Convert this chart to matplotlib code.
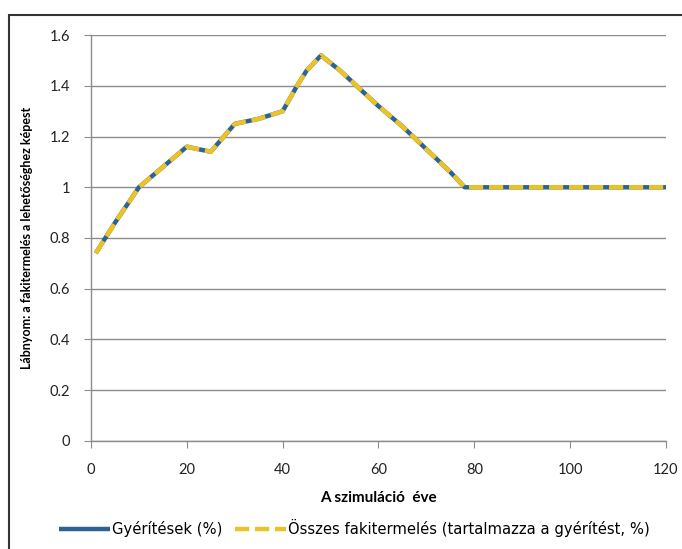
import matplotlib.pyplot as plt
from matplotlib.patches import Rectangle

plt.rcParams['font.family'] = ['Lato', 'DejaVu Sans']

# szimulációs év és a lábnyom értékei
years = [1, 5, 10, 15, 20, 25, 30, 35, 40, 43, 45, 48, 52, 56, 60, 65, 70, 75, 78,
         80, 85, 90, 95, 100, 105, 110, 115, 120]
gyeritesek = [0.74, 0.86, 1.00, 1.08, 1.16, 1.14, 1.25, 1.27, 1.30, 1.40, 1.46, 1.52,
              1.46, 1.39, 1.32, 1.24, 1.15, 1.06, 1.00,
              1.00, 1.00, 1.00, 1.00, 1.00, 1.00, 1.00, 1.00, 1.00]
osszes = list(gyeritesek)

x_ticks = [0, 20, 40, 60, 80, 100, 120]
y_ticks = [0, 0.2, 0.4, 0.6, 0.8, 1, 1.2, 1.4, 1.6]
y_labels = ['0', '0.2', '0.4', '0.6', '0.8', '1', '1.2', '1.4', '1.6']

fig = plt.figure(figsize=(6.82, 5.49), dpi=100)
ax = fig.add_axes([0.1334, 0.197, 0.8431, 0.739])

# keret a diagram körül
fig.patches.append(Rectangle((0.013, -0.1), 1.1, 1.073, transform=fig.transFigure,
                             fill=False, edgecolor='#333333', linewidth=1.5))

ax.plot(years, gyeritesek, color='#2B6396', linewidth=3.2, solid_capstyle='butt',
        label='Gyérítések (%)', zorder=3)
ax.plot(years, osszes, color='#EBC326', linewidth=3.2, linestyle=(0, (3.2, 1.3)),
        dash_capstyle='butt', label='Összes fakitermelés (tartalmazza a gyérítést, %)',
        zorder=4)

ax.set_xlim(0, 120)
ax.set_ylim(0, 1.6)
ax.set_xticks(x_ticks)
ax.set_yticks(y_ticks)
ax.set_yticklabels(y_labels)
ax.grid(True, axis='y', color='#8C8C8C', linewidth=1)
ax.set_axisbelow(True)
for s in ['top', 'right']:
    ax.spines[s].set_visible(False)
for s in ['left', 'bottom']:
    ax.spines[s].set_color('#8C8C8C')
    ax.spines[s].set_linewidth(1)
ax.tick_params(axis='both', direction='out', length=5, color='#8C8C8C',
               labelsize=10.5, labelcolor='#222222')
ax.tick_params(axis='x', pad=11)
ax.tick_params(axis='y', pad=10)

ax.set_xlabel('A szimuláció  éve', fontsize=11, fontweight='bold', labelpad=10)
ax.set_ylabel('Lábnyom: a fakitermelés a lehetőséghez képest', fontsize=9,
              fontweight='bold', labelpad=12)

fig.legend(handles=ax.get_lines(), loc='center left', bbox_to_anchor=(0.086, 0.038),
           ncol=2, frameon=False, borderpad=0, borderaxespad=0,
           prop={'family': 'DejaVu Sans', 'size': 10.6},
           handlelength=3.5, handletextpad=0.15, columnspacing=0.8)

fig.savefig('out.png', dpi=100)
